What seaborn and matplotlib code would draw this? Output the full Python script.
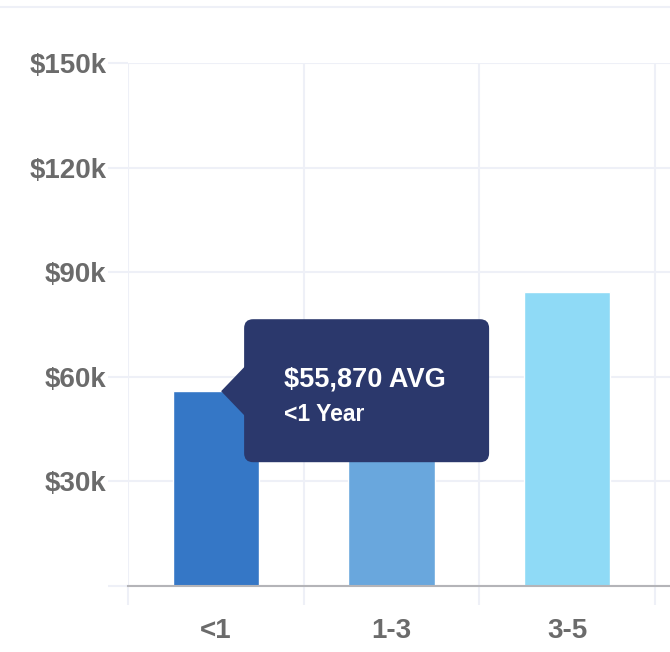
import matplotlib
matplotlib.use("Agg")
import matplotlib.pyplot as plt
import matplotlib.transforms as mtransforms
from matplotlib.patches import FancyBboxPatch, Polygon
from matplotlib.lines import Line2D
import seaborn as sns

# data
categories = ["<1", "1-3", "3-5"]
salaries = [55870, 68000, 84200]
bar_colors = ["#3577c6", "#69a7dd", "#8fdaf6"]
y_ticks = [0, 30000, 60000, 90000, 120000, 150000]
y_labels = ["", "$30k", "$60k", "$90k", "$120k", "$150k"]
tooltip_sub = "<1 Year"

grid_col = "#eef0f7"
axis_col = "#b4b4b8"
label_col = "#6b6b6b"

sns.set_style("white")
plt.rcParams["font.family"] = ["Liberation Sans", "DejaVu Sans"]

fig = plt.figure(figsize=(6.7, 6.52), dpi=100)
ax = fig.add_axes([128 / 670, 1 - 586 / 652, 542 / 670, 523 / 652])

sns.barplot(x=categories, y=salaries, hue=categories, palette=bar_colors,
            legend=False, width=0.49, saturation=1, ax=ax, zorder=3)

ax.set_xlim(-0.5, 2.585)
ax.set_ylim(0, 150000)

# y axis - grid lines stick out to the left as ticks
ax.set_yticks(y_ticks)
ax.set_yticklabels(y_labels)
ax.tick_params(axis="y", left=True, length=14.4, width=1.5, color=grid_col,
               pad=1, labelsize=20, labelcolor=label_col)
ax.yaxis.get_major_ticks()[0].tick1line.set_color(axis_col)
for t in ax.get_yticklabels():
    t.set_fontweight("bold")

# x axis: labels in centre, ticks at category borders
ax.set_xticks([0, 1, 2])
ax.set_xticklabels(categories)
ax.set_xticks([-0.5, 0.5, 1.5, 2.5], minor=True)
ax.tick_params(axis="x", which="major", bottom=True, length=0, pad=23,
               labelsize=20, labelcolor=label_col)
ax.tick_params(axis="x", which="minor", bottom=True, length=13.7, width=1.5,
               color=grid_col)
ax.xaxis.get_minor_ticks()[0].tick1line.set_color("#c8c8cc")
for t in ax.get_xticklabels():
    t.set_fontweight("bold")

ax.grid(True, axis="y", which="major", color=grid_col, lw=1.5, zorder=0)
ax.grid(True, axis="x", which="minor", color=grid_col, lw=1.5, zorder=0)
ax.set_axisbelow(True)

for s in ["top", "right", "left"]:
    ax.spines[s].set_visible(False)
ax.spines["bottom"].set_color(axis_col)
ax.spines["bottom"].set_linewidth(1.5)
ax.spines["bottom"].set_zorder(4)
ax.set_xlabel("")
ax.set_ylabel("")

# line across the top of the card
fig.add_artist(Line2D([0, 1], [1 - 7 / 652, 1 - 7 / 652], color=grid_col, lw=1.5,
                      transform=fig.transFigure))

# tooltip on the first bar, drawn in inches around the bar top
trans = fig.dpi_scale_trans + mtransforms.ScaledTranslation(0.03, salaries[0], ax.transData)
tip_col = "#2b386c"
box = FancyBboxPatch((0.23, -0.71), 2.45, 1.43,
                     boxstyle="round,pad=0,rounding_size=0.09",
                     transform=trans, facecolor=tip_col, edgecolor="none",
                     zorder=6, clip_on=False)
fig.add_artist(box)
arrow = Polygon([(0.0, 0.0), (0.24, 0.25), (0.24, -0.25)], closed=True,
                transform=trans, facecolor=tip_col, edgecolor="none",
                zorder=6, clip_on=False)
fig.add_artist(arrow)
fig.text(0.63, 0.12, f"${salaries[0]:,} AVG", transform=trans, color="white",
         fontsize=19.5, fontweight="bold", va="center", ha="left", zorder=7)
fig.text(0.63, -0.23, tooltip_sub, transform=trans, color="white",
         fontsize=16.5, fontweight="bold", va="center", ha="left", zorder=7)

fig.savefig("out.png", dpi=100)
